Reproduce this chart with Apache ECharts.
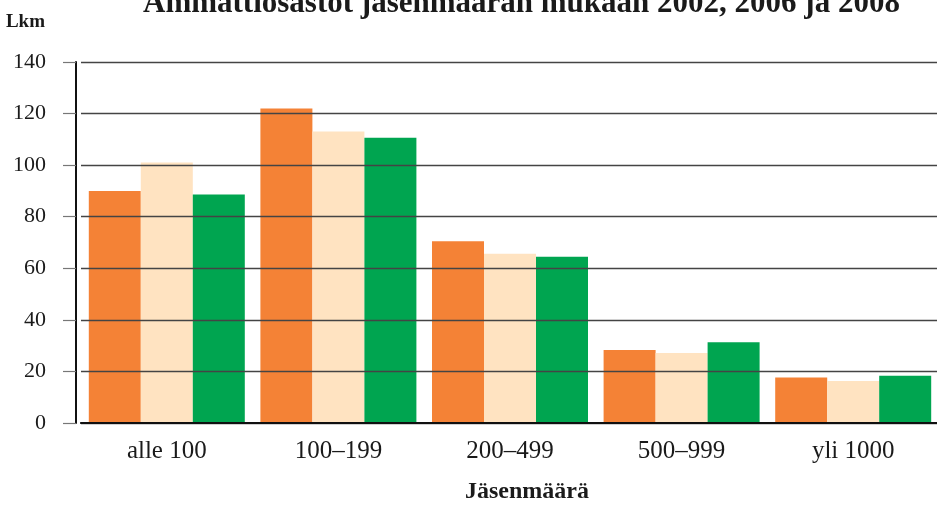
<!DOCTYPE html>
<html>
<head>
<meta charset="utf-8">
<script src="https://cdn.jsdelivr.net/npm/echarts@6/dist/echarts.min.js"></script>
<style>
html, body { margin: 0; padding: 0; background: #fff; }
#main { width: 937px; height: 505px; }
</style>
</head>
<body>
<div id="main"></div>
<script>
// 数据
var categories = ['alle 100', '100–199', '200–499', '500–999', 'yli 1000'];
var seriesNames = ['2002', '2006', '2008'];
var values2002 = [90, 122, 70.5, 28.3, 17.6];
var values2006 = [101, 113, 65.6, 27.1, 16.3];
var values2008 = [88.6, 110.6, 64.5, 31.3, 18.3];
var yTicks = [0, 20, 40, 60, 80, 100, 120, 140];
var colors = ['#F48236', '#FFE3C1', '#00A550'];

var serif = '"Liberation Serif", "DejaVu Serif", serif';

var myChart = echarts.init(document.getElementById('main'));

function bar(name, data, color) {
    return {
        name: name,
        type: 'bar',
        data: data,
        barWidth: 52,
        barGap: '0%',
        itemStyle: { color: color },
        z: 3
    };
}

var option = {
    animation: false,
    title: {
        text: 'Ammattiosastot jäsenmäärän mukaan 2002, 2006 ja 2008',
        left: 138,
        top: -17,
        textStyle: { fontFamily: serif, fontSize: 31, fontWeight: 'bold', color: '#1a1a1a' }
    },
    grid: { left: 81, right: -2, top: 62, bottom: 82, containLabel: false, outerBoundsMode: 'none' },
    xAxis: [{
        type: 'category',
        data: categories,
        name: 'Jäsenmäärä',
        nameLocation: 'middle',
        nameGap: 57,
        nameTextStyle: { fontFamily: serif, fontSize: 24, fontWeight: 'bold', color: '#1a1a1a', padding: [0, 0, 0, 34] },
        axisLine: { lineStyle: { color: '#111', width: 2 } },
        axisTick: { show: false },
        axisLabel: { fontFamily: serif, fontSize: 25, color: '#1a1a1a', margin: 16 },
        z: 5
    }, {
        type: 'category',
        data: categories,
        position: 'top',
        axisLine: { lineStyle: { color: '#111', width: 1.5 } },
        axisTick: { show: false },
        axisLabel: { show: false },
        z: 5
    }],
    yAxis: [{
        type: 'value',
        min: 0,
        max: 140,
        interval: 20,
        offset: 5,
        name: 'Lkm',
        nameLocation: 'end',
        nameGap: 40,
        nameTextStyle: { fontFamily: serif, fontSize: 19, fontWeight: 'bold', color: '#1a1a1a', align: 'right', verticalAlign: 'middle', padding: [0, 31, 0, 0] },
        axisLine: { show: true, lineStyle: { color: '#111', width: 2 } },
        axisTick: { show: true, length: 13, lineStyle: { color: '#777', width: 1.2 } },
        axisLabel: {
            fontFamily: serif, fontSize: 22, color: '#1a1a1a', margin: 30,
            formatter: function (v) { return yTicks.indexOf(v) >= 0 ? String(v) : ''; }
        },
        splitLine: { show: true, lineStyle: { color: '#444', width: 1.3 } },
        z: 5
    }, {
        type: 'value',
        min: 0,
        max: 140,
        interval: 20,
        offset: 5,
        axisLine: { show: false },
        axisTick: { show: true, inside: true, length: 6, lineStyle: { color: '#444', width: 1.3 } },
        axisLabel: { show: false },
        splitLine: { show: false }
    }],
    series: [
        bar(seriesNames[0], values2002, colors[0]),
        bar(seriesNames[1], values2006, colors[1]),
        bar(seriesNames[2], values2008, colors[2])
    ]
};

myChart.setOption(option);
</script>
</body>
</html>
